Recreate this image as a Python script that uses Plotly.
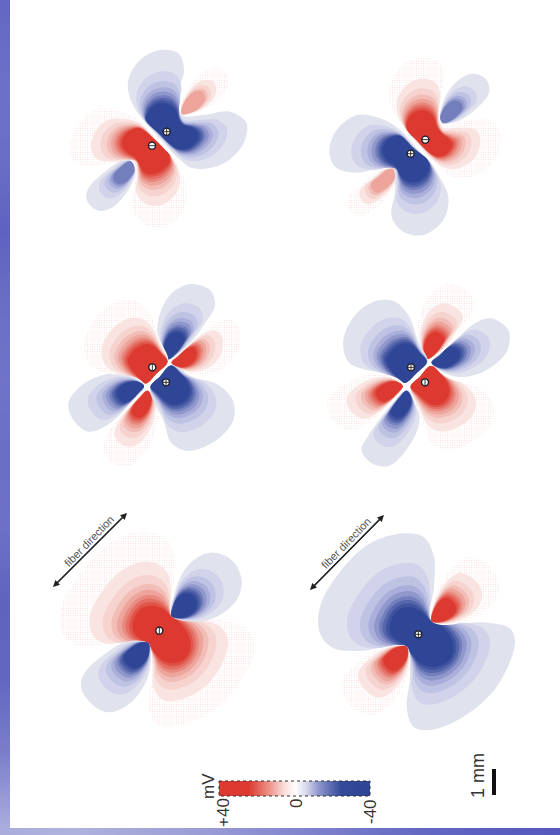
import plotly.graph_objects as go

panel_origins = {"p1": (50, 500), "p2": (290, 500), "p3": (60, 280), "p4": (320, 280), "p5": (60, 40), "p6": (320, 50)}

p1_center_outer = [(365,348),(372,240),(372,160),(340,110),(270,95),(180,130),(95,215),(35,320),(40,400),(90,438),(190,428),(293,428),(305,520),(295,620),(325,675),(390,675),(480,640),(565,555),(615,440),(590,385),(510,360)]
p1_center_core = [(365,350),(350,335),(330,322),(305,317),(280,322),(262,338),(250,362),(248,385),(257,405),(272,418),(285,425),(293,430),(315,460),(335,480),(365,490),(395,483),(415,462),(422,435),(415,405),(400,380),(380,360)]
p1_blue_ur = [(365,348),(372,285),(415,195),(480,158),(545,180),(575,240),(560,300),(500,350),(430,365)]
p1_blue_ll = [(295,430),(230,425),(160,465),(100,525),(95,570),(135,620),(180,637),(240,610),(290,540),(303,470)]

p2_center_outer = [(425,362),(432,260),(432,170),(400,110),(340,100),(240,130),(150,215),(90,320),(90,400),(130,445),(220,452),(345,438),(360,530),(350,620),(370,680),(420,690),(520,650),(620,560),(675,430),(660,385),(590,368)]
p2_center_core = [(425,365),(405,345),(385,330),(360,322),(335,325),(315,340),(302,365),(298,390),(308,410),(325,423),(338,432),(348,440),(372,470),(392,490),(420,500),(450,497),(478,480),(490,455),(488,425),(470,395),(445,372)]
p2_red_ur = [(425,362),(440,280),(490,200),(540,170),(600,200),(628,250),(610,310),(550,355),(470,375)]
p2_red_ll = [(350,440),(270,445),(200,490),(155,545),(170,600),(230,645),(280,630),(340,560),(360,490)]

p3_red_outer = [(325,245),(300,180),(270,100),(230,65),(170,65),(110,110),(72,190),(90,255),(150,282),(225,285),(258,312),(290,280)]
p3_red_core = [(322,245),(305,222),(280,198),(262,192),(235,200),(215,218),(203,240),(210,262),(228,285),(245,302),(258,310),(290,280)]
p3_blue_outer = [(333,255),(400,292),(470,312),(518,360),(520,420),(470,480),(385,513),(335,490),(310,420),(270,325),(300,290)]
p3_blue_core = [(333,257),(360,280),(382,305),(390,335),(378,360),(355,373),(330,372),(310,358),(290,340),(272,320),(300,290)]
p3_blue_top = [(323,238),(295,185),(295,120),(330,45),(390,12),(450,30),(465,75),(435,130),(390,190)]
p3_red_right = [(335,248),(385,200),(450,140),(510,118),(540,150),(530,220),(480,270),(410,285)]
p3_blue_left = [(252,318),(200,285),(130,285),(60,320),(25,370),(40,420),(85,455),(150,430),(210,370)]
p3_red_bottom = [(262,332),(205,385),(150,450),(130,510),(160,550),(210,555),(260,510),(290,440),(295,380)]

p4_blue_outer = [(323,245),(295,185),(265,105),(225,65),(170,62),(110,100),(70,180),(85,245),(140,270),(215,283),(255,308),(290,278)]
p4_blue_core = [(320,245),(300,220),(280,198),(262,190),(232,198),(212,216),(198,238),(207,262),(225,285),(242,300),(255,308),(290,278)]
p4_red_outer = [(333,258),(390,300),(470,320),(518,370),(515,430),(465,480),(385,510),(335,490),(310,430),(272,318),(300,290)]
p4_red_core = [(333,258),(360,280),(380,305),(388,335),(378,360),(355,375),(330,372),(310,358),(290,340),(272,320),(300,290)]
p4_red_top = [(322,237),(298,190),(295,120),(330,45),(385,12),(445,35),(465,70),(435,130),(390,190)]
p4_blue_right = [(335,248),(395,195),(450,140),(510,115),(565,150),(560,215),(490,275),(410,290)]
p4_red_left = [(248,318),(190,282),(120,290),(50,330),(22,370),(40,420),(90,450),(150,425),(210,370)]
p4_blue_bottom = [(260,332),(205,385),(150,460),(125,510),(155,550),(205,558),(255,515),(295,440),(295,385)]

p5_blue_outer = [(245,235),(210,175),(205,120),(240,60),(300,30),(355,40),(372,90),(355,160),(365,225),(430,225),(510,215),(560,250),(545,320),(480,375),(400,385),(350,350),(295,290)]
p5_blue_core = [(258,240),(262,222),(272,205),(290,192),(315,190),(338,200),(352,220),(358,240),(372,255),(395,262),(412,275),(415,295),(400,315),(375,328),(350,325),(330,312),(295,278)]
p5_red_outer = [(238,240),(180,215),(110,210),(50,260),(28,320),(50,370),(120,375),(215,365),(225,430),(215,500),(250,550),(310,560),(370,510),(380,440),(350,370),(340,355),(290,300)]
p5_red_core = [(240,265),(215,270),(195,285),(185,305),(190,325),(205,340),(222,350),(232,362),(240,378),(250,395),(270,403),(295,398),(318,382),(330,362),(325,340),(320,335),(285,300)]
p5_blue_ll = [(228,365),(190,360),(135,395),(85,445),(80,480),(115,512),(160,500),(205,450),(228,395)]
p5_red_ur = [(365,222),(365,190),(395,130),(440,90),(490,90),(505,130),(480,175),(430,210)]

p6_red_outer = [(248,228),(215,175),(205,125),(235,60),(290,25),(355,35),(372,85),(358,160),(368,220),(430,212),(510,210),(540,245),(530,320),(470,375),(400,380),(348,345),(295,285)]
p6_red_core = [(262,240),(260,220),(268,200),(285,185),(310,180),(332,190),(345,210),(352,232),(368,252),(385,265),(397,280),(392,298),(375,315),(352,320),(340,315),(325,305),(290,270)]
p6_blue_outer = [(238,238),(180,205),(110,195),(50,240),(28,300),(45,350),(110,368),(215,352),(225,420),(215,500),(250,545),(310,555),(370,510),(385,440),(355,375),(338,345),(290,295)]
p6_blue_core = [(240,258),(215,262),(197,275),(188,298),(192,318),(205,335),(222,345),(232,358),(240,375),(255,390),(275,397),(300,392),(320,375),(328,352),(325,335),(318,325),(280,295)]
p6_blue_ur = [(360,218),(365,170),(395,110),(450,72),(495,85),(508,125),(470,175),(410,215)]
p6_red_ll = [(225,358),(185,358),(135,395),(85,440),(85,475),(115,500),(160,480),(205,440),(228,395)]

# contour levels as read: position between outer outline (0) and core (1), and colour
level_pos = [0, .40, .58, .70, .78, .85, .90, .95, 1]
red_levels = ["#ffffff", "#f9e4e1", "#f6d3ce", "#f2bdb6", "#eda49b", "#e98a80", "#e56f64", "#e05348", "#dc3a30"]
blue_levels = ["#e0e2ee", "#d0d3ea", "#bfc3e3", "#a9aeda", "#8f97cb", "#737fbc", "#5566ac", "#3f539e", "#2f4596"]

# (panel, sign, outer, core or None, levels reached)
blobs = [
    ("p1", "r", p1_center_outer, p1_center_core, 9), ("p1", "b", p1_blue_ur, None, 9), ("p1", "b", p1_blue_ll, None, 9),
    ("p2", "b", p2_center_outer, p2_center_core, 9), ("p2", "r", p2_red_ur, None, 9), ("p2", "r", p2_red_ll, None, 9),
    ("p3", "b", p3_blue_top, None, 9), ("p3", "r", p3_red_right, None, 9), ("p3", "b", p3_blue_left, None, 9), ("p3", "r", p3_red_bottom, None, 9),
    ("p3", "r", p3_red_outer, p3_red_core, 9), ("p3", "b", p3_blue_outer, p3_blue_core, 9),
    ("p4", "r", p4_red_top, None, 9), ("p4", "b", p4_blue_right, None, 9), ("p4", "r", p4_red_left, None, 9), ("p4", "b", p4_blue_bottom, None, 9),
    ("p4", "b", p4_blue_outer, p4_blue_core, 9), ("p4", "r", p4_red_outer, p4_red_core, 9),
    ("p5", "b", p5_blue_ll, None, 6), ("p5", "r", p5_red_ur, None, 5),
    ("p5", "r", p5_red_outer, p5_red_core, 9), ("p5", "b", p5_blue_outer, p5_blue_core, 9),
    ("p6", "b", p6_blue_ur, None, 6), ("p6", "r", p6_red_ll, None, 5),
    ("p6", "b", p6_blue_outer, p6_blue_core, 9), ("p6", "r", p6_red_outer, p6_red_core, 9),
]
side_core_fraction = 0.36

electrodes = [("p1", 328, 392, "line-ns"), ("p2", 385, 403, "cross-thin"),
              ("p3", 277, 262, "line-ns"), ("p3", 318, 307, "cross-thin"),
              ("p4", 273, 262, "cross-thin"), ("p4", 315, 307, "line-ns"),
              ("p5", 276, 317, "line-ew"), ("p5", 320, 275, "cross-thin"),
              ("p6", 316, 269, "line-ew"), ("p6", 272, 311, "cross-thin")]

left_bar_colors = ["#6468c4", "#6c70c8", "#6a6ec6", "#5f63c0", "#6a6ec4", "#7073c8", "#6a6ec4", "#6d70c6", "#5f63be", "#6266c0", "#7a7eca", "#a9acdc"]
bottom_bar_colors = ["#aaacdc", "#b0b2de", "#a6a8da", "#9c9fd6", "#8e91d2", "#7e82cc", "#6f73c6", "#6266c2", "#5a5ec0", "#5559be"]
cbar_values = [40, 30, 20, 14, 8, 3, 0, -3, -8, -14, -20, -30, -40]
cbar_colorscale = [[0, "#2f4596"], [.25, "#34499a"], [.4, "#8f96cc"], [.5, "#ffffff"], [.6, "#ee9d94"], [.75, "#dc3a30"], [1, "#dc3a30"]]


def u(px):
    return px * 3


fig = go.Figure()


def bar(x0, x1, y0, y1, colors, vertical):
    n = len(colors)
    scale = [[i / (n - 1), c] for i, c in enumerate(colors)]
    idx = list(range(n))
    if vertical:
        dy = (y1 - y0) / n
        w = x1 - x0
        fig.add_trace(go.Heatmap(x=[x0 + w / 4, x0 + 3 * w / 4], y=[y0 + dy * (i + .5) for i in idx], z=[[i, i] for i in idx],
                                 colorscale=scale, showscale=False, zsmooth="best", hoverinfo="skip"))
    else:
        dx = (x1 - x0) / n
        h = y1 - y0
        fig.add_trace(go.Heatmap(y=[y0 + h / 4, y0 + 3 * h / 4], x=[x0 + dx * (i + .5) for i in idx], z=[idx, idx],
                                 colorscale=scale, showscale=False, zsmooth="best", hoverinfo="skip"))


bar(u(0), u(10), u(-28), u(863), left_bar_colors, True)
bar(u(-20), u(580), u(828), u(835), bottom_bar_colors, False)

for panel, sign, outer, core, reach in blobs:
    ox, oy = panel_origins[panel]
    colors = red_levels if sign == "r" else blue_levels
    if core is None:
        ax, ay = outer[0]
        core = [(ax + (x - ax) * side_core_fraction, ay + (y - ay) * side_core_fraction) for x, y in outer]
    for i in range(reach):
        t = level_pos[i]
        pts = [(a[0] + (b[0] - a[0]) * t, a[1] + (b[1] - a[1]) * t) for a, b in zip(outer, core)]
        pts.append(pts[0])
        kw = {}
        if i == 0 and sign == "r":
            kw["fillpattern"] = dict(shape=".", size=2.4, solidity=0.2, fgcolor="#f0bcb6", bgcolor="#ffffff")
        fig.add_trace(go.Scatter(x=[u(ox) + p[0] for p in pts], y=[u(oy) + p[1] for p in pts], mode="lines",
                                 line=dict(shape="spline", smoothing=1, width=0), fill="toself",
                                 fillcolor=colors[i], hoverinfo="skip", showlegend=False, **kw))

ex = [u(panel_origins[e[0]][0]) + e[1] for e in electrodes]
ey = [u(panel_origins[e[0]][1]) + e[2] for e in electrodes]
fig.add_trace(go.Scatter(x=ex, y=ey, mode="markers", hoverinfo="skip", showlegend=False,
                         marker=dict(size=7, color="#ffffff", line=dict(color="#1a1a2a", width=1.4))))
fig.add_trace(go.Scatter(x=ex, y=ey, mode="markers", hoverinfo="skip", showlegend=False,
                         marker=dict(size=6, symbol=[e[3] for e in electrodes], color="#333333", line=dict(color="#333333", width=1))))

# colour bar
cbar_step = u(151) / len(cbar_values)
fig.add_trace(go.Heatmap(x=[u(219) + (i + .5) * cbar_step for i in range(len(cbar_values))],
                         y=[u(781) + u(15) / 4, u(781) + u(15) * 3 / 4],
                         z=[cbar_values, cbar_values], zmin=-40, zmax=40, colorscale=cbar_colorscale,
                         showscale=False, zsmooth="best", hoverinfo="skip"))
fig.add_shape(type="rect", x0=u(219), x1=u(370), y0=u(781), y1=u(796), line=dict(color="#333333", width=1, dash="dot"))
# scale bar
fig.add_shape(type="rect", x0=u(492), x1=u(496), y0=u(769), y1=u(795), fillcolor="#111111", line=dict(width=0))


def label(text, x, y, size, angle=-90, color="#333333"):
    fig.add_annotation(x=u(x), y=u(y), text=text, textangle=angle, showarrow=False,
                       font=dict(family="Liberation Sans", size=size, color=color))


label("mV", 208, 786, 17)
label("+40", 223, 813, 17)
label("0", 296, 804, 17)
label("-40", 370, 812, 17)
label("1 mm", 478, 776, 18)
label("fiber direction", 89, 541, 11, -46, "#555555")
label("fiber direction", 346, 543, 11, -46, "#555555")

for x0, y0, x1, y1 in [(53, 587, 127, 513), (310, 590, 384, 515)]:
    for a, b, c, d in [(x0, y0, x1, y1), (x1, y1, x0, y0)]:
        fig.add_annotation(x=u(c), y=u(d), ax=u(a), ay=u(b), axref="x", ayref="y", text="", showarrow=True,
                           arrowhead=2, arrowsize=1.1, arrowwidth=1.2, arrowcolor="#222222")

fig.update_xaxes(range=[0, u(560)], visible=False, fixedrange=True)
fig.update_yaxes(range=[u(835), 0], visible=False, fixedrange=True)
fig.update_layout(width=560, height=835, margin=dict(l=0, r=0, t=0, b=0), plot_bgcolor="#ffffff",
                  paper_bgcolor="#ffffff", showlegend=False)
fig.write_html("out.html", config={"displayModeBar": False},
               post_script="document.body.style.margin='0';document.documentElement.style.overflow='hidden';")
